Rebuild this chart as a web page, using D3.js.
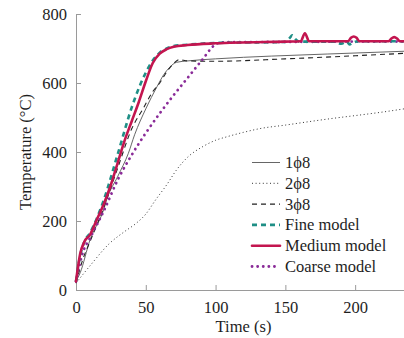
<!DOCTYPE html>
<html>
<head>
<meta charset="utf-8">
<script src="https://cdn.jsdelivr.net/npm/d3@7/dist/d3.min.js"></script>
<style>
  html, body { margin: 0; padding: 0; background: #fff; }
  svg { display: block; }
</style>
</head>
<body>
<svg id="chart" width="404" height="338"></svg>
<script>
// Heating curves: measured specimens (1φ8, 2φ8, 3φ8) and three mesh models
const xTicks = [0, 50, 100, 150, 200];
const yTicks = [0, 200, 400, 600, 800];

const t1phi8 = [0, 3, 10, 20, 22, 30, 37.5, 42, 50, 58, 63, 67, 72, 80, 100, 140, 180, 235];
const v1phi8 = [25, 50, 145, 235, 262, 330, 396, 450, 525, 589, 625, 645, 660, 664, 670, 678, 684, 692];

const t2phi8 = [0, 10, 24, 35, 43, 50, 57, 65, 72, 80, 91, 100, 108, 120, 132, 150, 167, 185, 203, 220, 235];
const v2phi8 = [20, 70, 135, 170, 193, 220, 261, 305, 348, 385, 416, 434, 444, 457, 468, 478, 488, 498, 507, 516, 525];

const t3phi8 = [0, 5, 10, 20, 30, 40, 48, 55, 60, 65, 70, 74, 80, 100, 150, 200, 235];
const v3phi8 = [20, 90, 140, 240, 355, 468, 525, 575, 600, 632, 657, 668, 664, 663, 670, 679, 686];

const tFine = [0, 3, 6, 10, 20, 30, 40, 45, 50, 55, 60, 65, 70, 80, 100, 150, 153, 155, 157, 160, 185, 190, 194, 196, 198, 202, 235];
const vFine = [25, 100, 140, 165, 262, 395, 530, 585, 630, 665, 688, 700, 707, 711, 716, 719, 730, 738, 728, 720, 720, 714, 720, 712, 716, 721, 721];

const tMedium = [0, 3, 6, 10, 15, 20, 25, 30, 35, 40, 45, 50, 55, 60, 65, 70, 80, 100, 150, 161, 164, 167, 195, 197, 199, 201, 203, 224, 226, 228, 230, 232, 235];
const vMedium = [25, 105, 140, 160, 205, 250, 305, 370, 435, 490, 545, 605, 658, 685, 698, 705, 710, 715, 720, 721, 744, 721, 721, 731, 735, 731, 721, 721, 729, 733, 729, 721, 721];

const tCoarse = [0, 5, 10, 20, 30, 40, 50, 60, 70, 80, 90, 100, 105, 150, 200, 235];
const vCoarse = [25, 110, 150, 230, 320, 392, 455, 512, 565, 615, 665, 712, 718, 719, 720, 720];

const seriesNames = ["1\u03D58", "2\u03D58", "3\u03D58", "Fine model", "Medium model", "Coarse model"];

const serif = "'Liberation Serif', 'Times New Roman', Times, serif";
const textColor = "#1e1e1e";

const styles = [
  { color: "#555", width: 0.9, dash: null, cap: "butt" },
  { color: "#333", width: 1.0, dash: "1,2.6", cap: "butt" },
  { color: "#222", width: 1.1, dash: "5,4", cap: "butt" },
  { color: "#1f8f86", width: 2.6, dash: "5,4", cap: "butt" },
  { color: "#c3154f", width: 2.6, dash: null, cap: "round" },
  { color: "#8a2b98", width: 2.8, dash: "0.1,5.5", cap: "round" }
];

const series = [
  [t1phi8, v1phi8], [t2phi8, v2phi8], [t3phi8, v3phi8],
  [tFine, vFine], [tMedium, vMedium], [tCoarse, vCoarse]
].map(([t, v]) => t.map((x, i) => ({ t: x, v: v[i] })));

const svg = d3.select("#chart");
const x = d3.scaleLinear().domain([0, 235]).range([76, 404]);
const y = d3.scaleLinear().domain([0, 800]).range([290, 14]);

// Axes: grey spines with inward ticks
const axisColor = "#9a9a9a";
const xAxis = svg.append("g").attr("transform", "translate(0,290)")
  .call(d3.axisBottom(x).tickValues(xTicks).tickSizeInner(-5).tickSizeOuter(0).tickPadding(11));
const yAxis = svg.append("g").attr("transform", "translate(76,0)")
  .call(d3.axisLeft(y).tickValues(yTicks).tickSizeInner(-5).tickSizeOuter(0).tickPadding(9));
[xAxis, yAxis].forEach(g => {
  g.attr("font-family", null).attr("font-size", null);
  g.select(".domain").attr("stroke", axisColor).attr("stroke-width", 1);
  g.selectAll(".tick line").attr("stroke", axisColor);
  g.selectAll(".tick text").style("font-family", serif).style("font-size", "16.5px").attr("fill", textColor);
});

const line = d3.line().x(d => x(d.t)).y(d => y(d.v)).curve(d3.curveMonotoneX);

const plot = svg.append("g");
const drawOrder = [1, 0, 2, 5, 3, 4];
drawOrder.forEach(i => {
  const s = styles[i];
  plot.append("path")
    .datum(series[i])
    .attr("d", line)
    .attr("fill", "none")
    .attr("stroke", s.color)
    .attr("stroke-width", s.width)
    .attr("stroke-dasharray", s.dash)
    .attr("stroke-linecap", s.cap)
    .attr("stroke-linejoin", "round");
});

// Axis titles
svg.append("text")
  .attr("x", x(120)).attr("y", 332)
  .attr("text-anchor", "middle")
  .style("font-family", serif).style("font-size", "16.5px").attr("fill", textColor)
  .text("Time (s)");
svg.append("text")
  .attr("transform", "translate(31,152) rotate(-90)")
  .attr("text-anchor", "middle")
  .style("font-family", serif).style("font-size", "16.5px").attr("fill", textColor)
  .text("Temperature (\u00B0C)");

// Legend
const legend = svg.append("g");
seriesNames.forEach((name, i) => {
  const s = styles[i];
  const ly = 162.5 + i * 20.8;
  legend.append("line")
    .attr("x1", 252).attr("x2", 280)
    .attr("y1", ly).attr("y2", ly)
    .attr("stroke", s.color)
    .attr("stroke-width", s.width)
    .attr("stroke-dasharray", s.dash)
    .attr("stroke-linecap", s.cap);
  legend.append("text")
    .attr("x", 285).attr("y", ly + 5.5)
    .style("font-family", serif).style("font-size", "16.5px").attr("fill", textColor)
    .text(name);
});
</script>
</body>
</html>
